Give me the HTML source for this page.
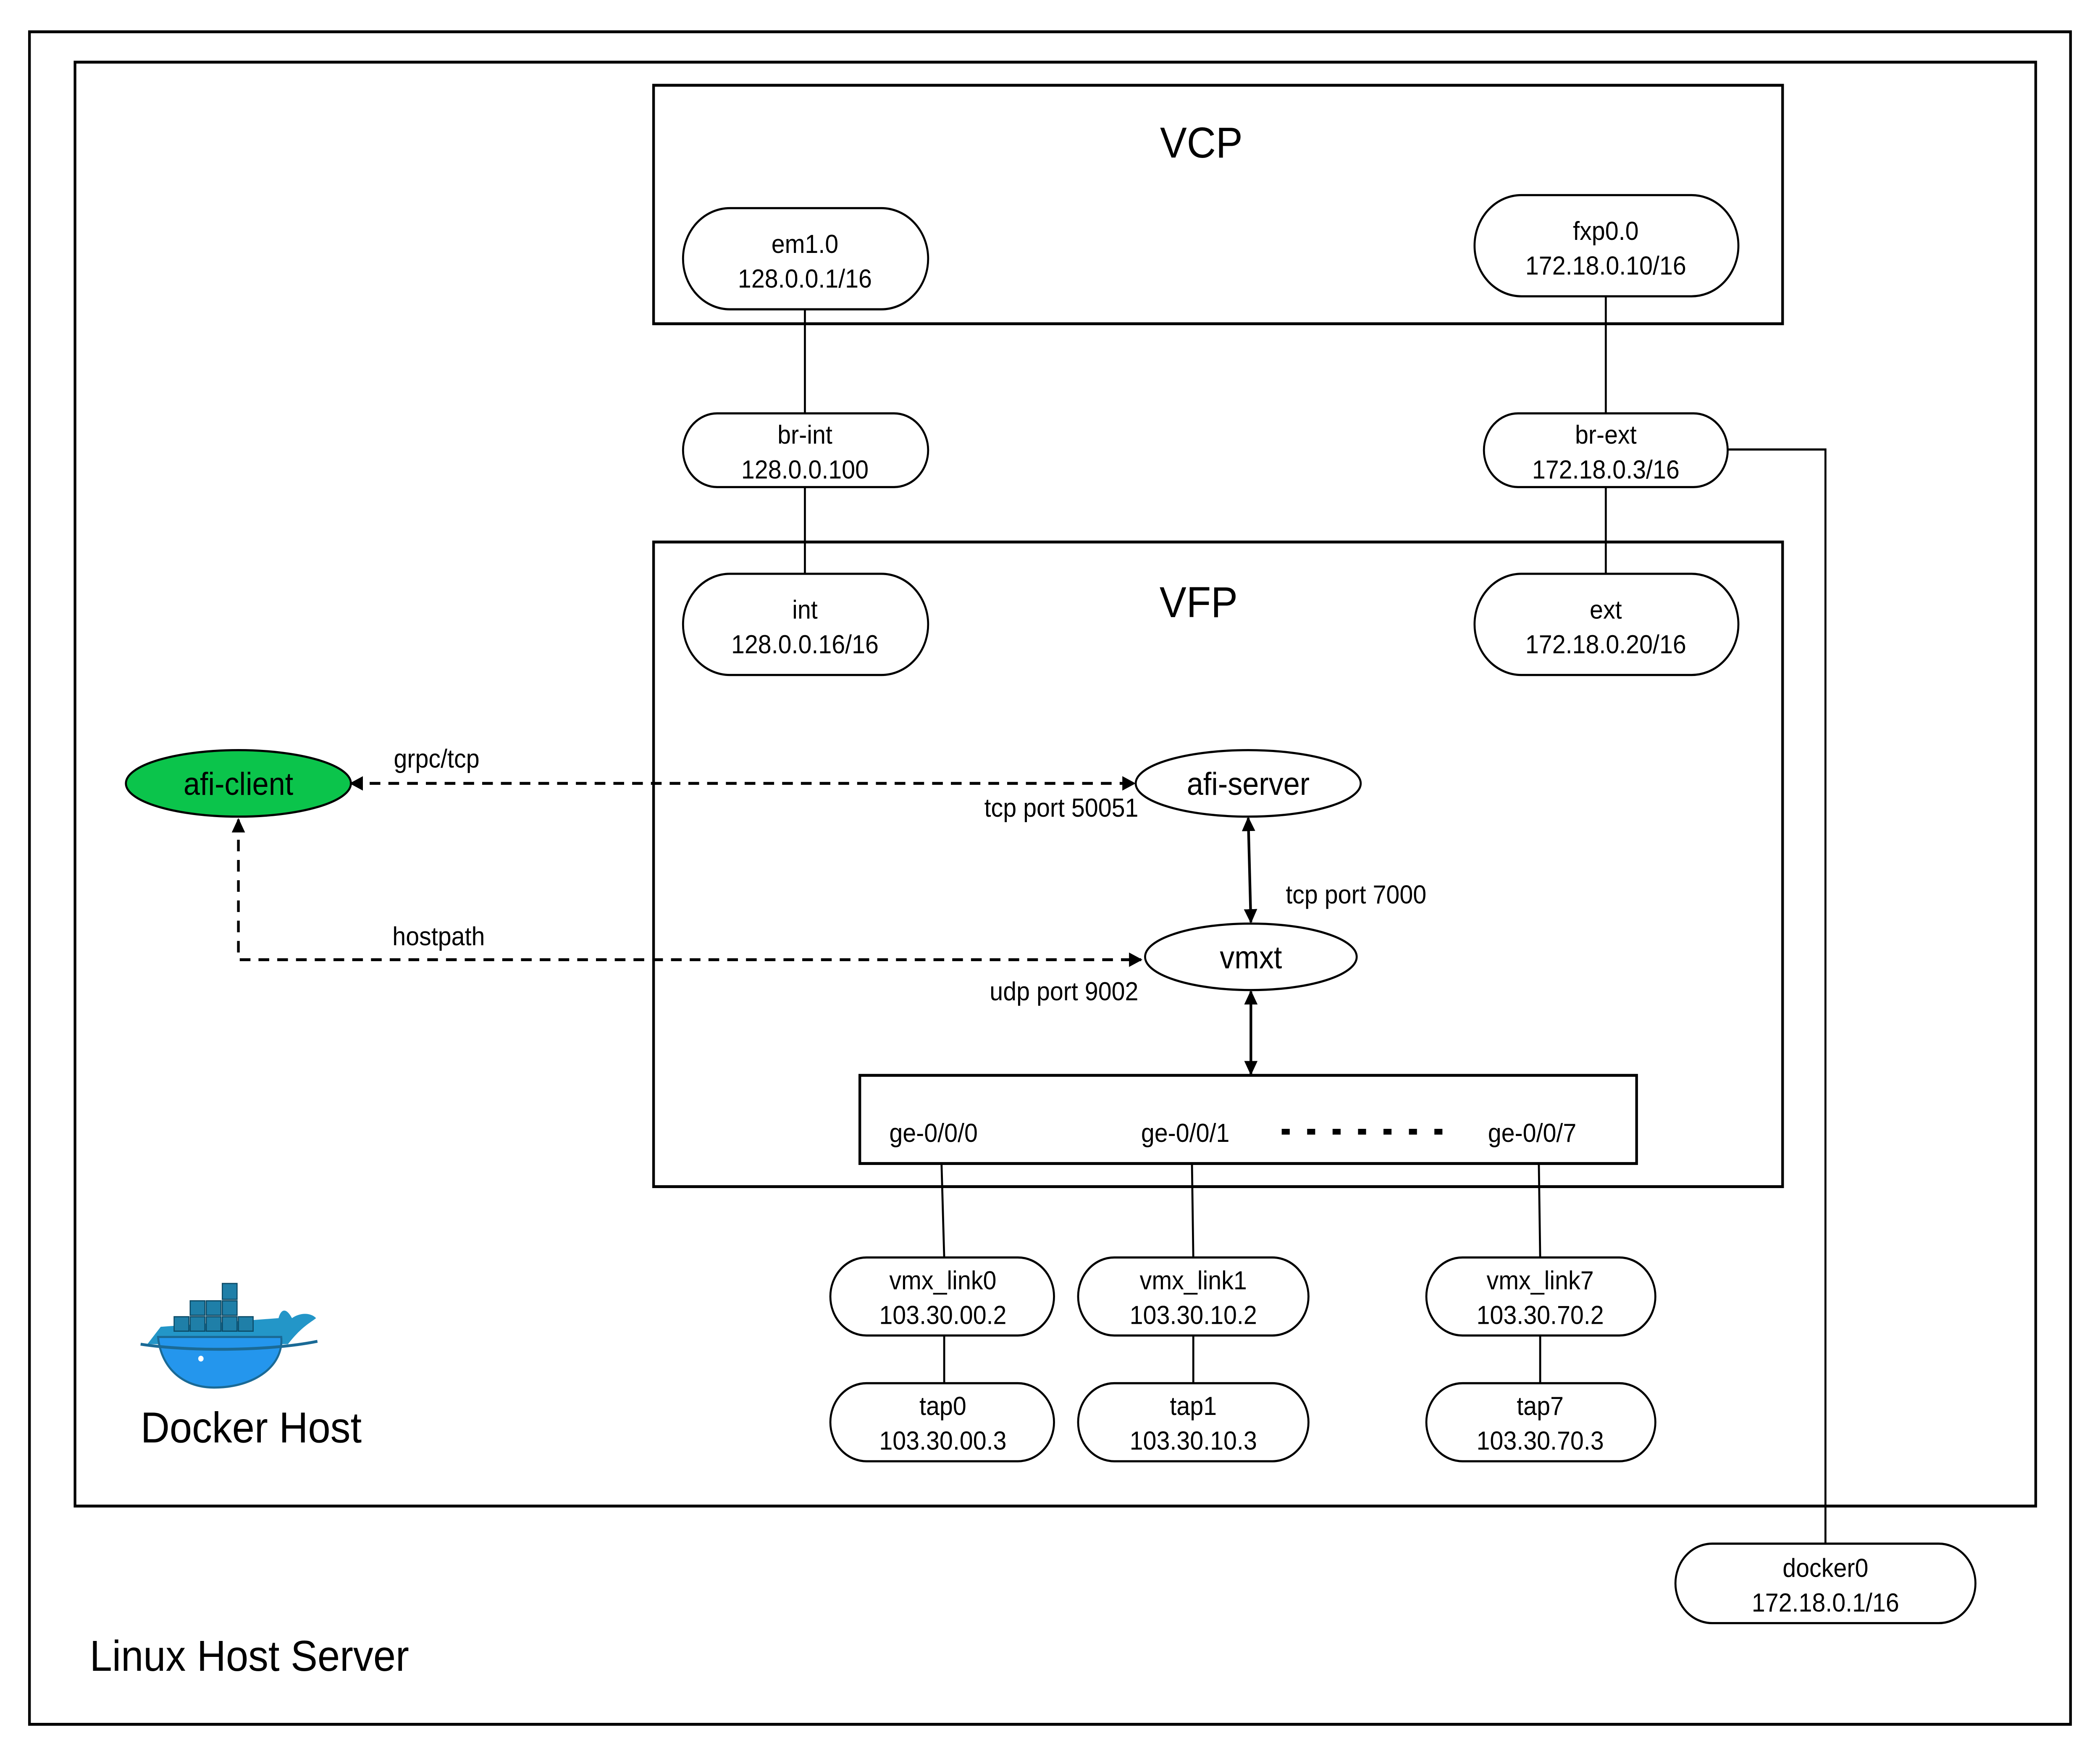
<!DOCTYPE html>
<html><head><meta charset="utf-8"><style>
html,body{margin:0;padding:0;background:#fff;overflow:hidden;width:100%;height:100%;}
svg{display:block;width:100vw;height:100vh;}
text{font-family:"Liberation Sans",sans-serif;fill:#000;}
</style></head><body>
<svg viewBox="0 0 1568 1217" preserveAspectRatio="none" xmlns="http://www.w3.org/2000/svg">
<defs>
<marker id="a" markerWidth="10" markerHeight="10" refX="9" refY="5" orient="auto" markerUnits="userSpaceOnUse" viewBox="0 0 10 10"><path d="M0,0 L10,5 L0,10 z" fill="#000"/></marker>
<marker id="as" markerWidth="10" markerHeight="10" refX="1" refY="5" orient="auto" markerUnits="userSpaceOnUse" viewBox="0 0 10 10"><path d="M10,0 L0,5 L10,10 z" fill="#000"/></marker>
</defs>
<rect x="0" y="0" width="1568" height="1217" fill="#fff"/>
<g fill="none" stroke="#000" stroke-width="2">
<rect x="22" y="22" width="1524" height="1171"/>
<rect x="56" y="43" width="1464" height="999"/>
<rect x="488" y="59" width="843" height="165"/>
<rect x="488" y="375" width="843" height="446"/>
<rect x="642" y="744" width="580" height="61"/>
</g>
<g fill="none" stroke="#000" stroke-width="1.5">
<line x1="601" y1="214" x2="601" y2="286"/>
<line x1="601" y1="337" x2="601" y2="397"/>
<line x1="1199" y1="205" x2="1199" y2="286"/>
<line x1="1199" y1="337" x2="1199" y2="397"/>
<polyline points="1290,311 1363,311 1363,1068"/>
<line x1="703" y1="805" x2="705" y2="870"/>
<line x1="890" y1="805" x2="891" y2="870"/>
<line x1="1149" y1="805" x2="1150" y2="870"/>
<line x1="705" y1="924" x2="705" y2="957"/>
<line x1="891" y1="924" x2="891" y2="957"/>
<line x1="1150" y1="924" x2="1150" y2="957"/>
</g>
<g fill="#fff" stroke="#000" stroke-width="1.5">
<rect x="510" y="144" width="183" height="70" rx="35"/>
<rect x="1101" y="135" width="197" height="70" rx="35"/>
<rect x="510" y="286" width="183" height="51" rx="25.5"/>
<rect x="1108" y="286" width="182" height="51" rx="25.5"/>
<rect x="510" y="397" width="183" height="70" rx="35"/>
<rect x="1101" y="397" width="197" height="70" rx="35"/>
<rect x="620" y="870" width="167" height="54" rx="27"/>
<rect x="805" y="870" width="172" height="54" rx="27"/>
<rect x="1065" y="870" width="171" height="54" rx="27"/>
<rect x="620" y="957" width="167" height="54" rx="27"/>
<rect x="805" y="957" width="172" height="54" rx="27"/>
<rect x="1065" y="957" width="171" height="54" rx="27"/>
<rect x="1251" y="1068" width="224" height="55" rx="27.5"/>
<ellipse cx="932" cy="542" rx="84" ry="23"/>
<ellipse cx="934" cy="662" rx="79" ry="23"/>
</g>
<ellipse cx="178" cy="542" rx="84" ry="23" fill="#0bc44b" stroke="#000" stroke-width="1.5"/>
<g fill="none" stroke="#000" stroke-width="2" stroke-dasharray="8,6">
<line x1="262" y1="542" x2="847" y2="542" marker-start="url(#as)" marker-end="url(#a)"/>
<polyline points="178,567 178,664 852,664" marker-start="url(#as)" marker-end="url(#a)"/>
</g>
<g fill="none" stroke="#000" stroke-width="2">
<line x1="932" y1="566" x2="934" y2="638" marker-start="url(#as)" marker-end="url(#a)"/>
<line x1="934" y1="686" x2="934" y2="743" marker-start="url(#as)" marker-end="url(#a)"/>
<line x1="957" y1="783" x2="1088" y2="783" stroke-width="4" stroke-dasharray="6,13"/>
</g>
<g font-size="18" text-anchor="middle">
<text x="601" y="175">em1.0</text><text x="601" y="199">128.0.0.1/16</text>
<text x="1199" y="166">fxp0.0</text><text x="1199" y="190">172.18.0.10/16</text>
<text x="601" y="307">br-int</text><text x="601" y="331">128.0.0.100</text>
<text x="1199" y="307">br-ext</text><text x="1199" y="331">172.18.0.3/16</text>
<text x="601" y="428">int</text><text x="601" y="452">128.0.0.16/16</text>
<text x="1199" y="428">ext</text><text x="1199" y="452">172.18.0.20/16</text>
<text x="704" y="892">vmx_link0</text><text x="704" y="916">103.30.00.2</text>
<text x="891" y="892">vmx_link1</text><text x="891" y="916">103.30.10.2</text>
<text x="1150" y="892">vmx_link7</text><text x="1150" y="916">103.30.70.2</text>
<text x="704" y="979">tap0</text><text x="704" y="1003">103.30.00.3</text>
<text x="891" y="979">tap1</text><text x="891" y="1003">103.30.10.3</text>
<text x="1150" y="979">tap7</text><text x="1150" y="1003">103.30.70.3</text>
<text x="1363" y="1091">docker0</text><text x="1363" y="1115">172.18.0.1/16</text>
</g>
<g font-size="22" text-anchor="middle">
<text x="178" y="550">afi-client</text>
<text x="932" y="550">afi-server</text>
<text x="934" y="670">vmxt</text>
</g>
<g font-size="30" text-anchor="middle">
<text x="897" y="109">VCP</text>
<text x="895" y="427">VFP</text>
</g>
<g font-size="18">
<text x="294" y="531">grpc/tcp</text>
<text x="850" y="565" text-anchor="end">tcp port 50051</text>
<text x="960" y="625">tcp port 7000</text>
<text x="293" y="654">hostpath</text>
<text x="850" y="692" text-anchor="end">udp port 9002</text>
<text x="664" y="790">ge-0/0/0</text>
<text x="852" y="790">ge-0/0/1</text>
<text x="1111" y="790">ge-0/0/7</text>
</g>
<g font-size="30">
<text x="105" y="998">Docker Host</text>
<text x="67" y="1156">Linux Host Server</text>
</g>
<g>
<path d="M110,930 L215,930 C225,918 232,915 236,912 C232,908 224,908 218,912 C214,905 210,905 208,912 L120,918 Z" fill="#2396c8"/>
<path d="M118,925 L210,925 C212,945 190,960 160,960 C135,960 120,945 118,925 Z" fill="#2496ed" stroke="#1a6a96" stroke-width="1.5"/>
<path d="M105,930 C140,935 200,935 237,928" stroke="#1a6a96" stroke-width="2" fill="none"/>
<g fill="#1f7fa8" stroke="#0c4a66" stroke-width="0.8">
<rect x="130" y="911" width="11" height="10"/><rect x="142" y="911" width="11" height="10"/><rect x="154" y="911" width="11" height="10"/><rect x="166" y="911" width="11" height="10"/><rect x="178" y="911" width="11" height="10"/>
<rect x="142" y="900" width="11" height="10"/><rect x="154" y="900" width="11" height="10"/><rect x="166" y="900" width="11" height="10"/>
<rect x="166" y="888" width="11" height="11"/>
</g>
<circle cx="150" cy="940" r="2" fill="#fff"/>
</g>
</svg>
</body></html>
